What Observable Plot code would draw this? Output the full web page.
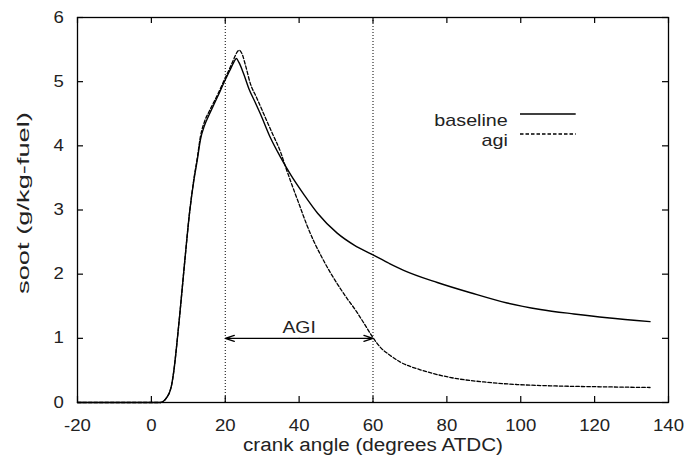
<!DOCTYPE html>
<html><head><meta charset="utf-8">
<script src="https://cdn.jsdelivr.net/npm/d3@7"></script>
<script src="https://cdn.jsdelivr.net/npm/@observablehq/plot@0.6"></script>
<style>body{margin:0;background:#fff} svg{display:block}</style>
</head><body><div id="chart"></div>
<script>
// ---- data ----
const baselineAngle = [-20, 0, 2.5, 3.5, 4.3, 5.0, 5.5, 6.1, 6.8, 7.7, 9.0, 10.4, 11.5, 12.4, 13.3, 14.4, 15.6, 16.9, 18.2, 19.6, 21.2, 22.3, 23.0, 23.7, 25.0, 26.4, 28.0, 29.5, 32.2, 35.0, 37.7, 41.3, 45.0, 50.3, 55.0, 59.3, 64.0, 68.3, 77.4, 86.4, 96.3, 105.3, 114.4, 123.4, 135.0];
const baselineSoot  = [0, 0, 0, 0.03, 0.09, 0.17, 0.28, 0.5, 0.86, 1.38, 2.18, 2.99, 3.46, 3.77, 4.10, 4.32, 4.48, 4.64, 4.80, 4.98, 5.17, 5.30, 5.36, 5.30, 5.12, 4.89, 4.69, 4.50, 4.13, 3.82, 3.55, 3.24, 2.95, 2.64, 2.45, 2.32, 2.18, 2.06, 1.87, 1.71, 1.55, 1.45, 1.38, 1.32, 1.26];
const agiAngle = [-20, 0, 2.5, 3.5, 4.3, 5.0, 5.5, 6.1, 6.8, 7.7, 9.0, 10.4, 11.5, 12.4, 13.3, 14.4, 15.6, 16.9, 18.2, 19.6, 21.0, 22.3, 23.2, 23.8, 24.5, 25.5, 26.8, 28.5, 30.4, 32.7, 35.0, 36.4, 38.0, 40.0, 42.0, 44.0, 46.0, 48.5, 51.0, 53.0, 55.5, 57.5, 60.0, 62.0, 64.5, 67.4, 72.8, 76.4, 81.9, 90.0, 99.0, 108.0, 121.6, 135.0];
const agiSoot  = [0, 0, 0, 0.03, 0.09, 0.17, 0.28, 0.5, 0.86, 1.38, 2.18, 2.99, 3.48, 3.80, 4.15, 4.38, 4.53, 4.68, 4.83, 5.01, 5.18, 5.35, 5.46, 5.49, 5.44, 5.25, 4.97, 4.75, 4.50, 4.20, 3.90, 3.66, 3.40, 3.09, 2.78, 2.51, 2.28, 2.02, 1.79, 1.62, 1.42, 1.24, 1.01, 0.86, 0.74, 0.63, 0.51, 0.45, 0.38, 0.32, 0.28, 0.26, 0.245, 0.234];
const seriesNames = ["baseline", "agi"];
const xTicks = [-20, 0, 20, 40, 60, 80, 100, 120, 140];
const yTicks = [0, 1, 2, 3, 4, 5, 6];
const agiWindow = [20, 60];
const agiArrowLevel = 1;
const agiText = "AGI";
const xLabel = "crank angle (degrees ATDC)";
const yLabel = "soot (g/kg-fuel)";

// ---- layout ----
const W = 688, H = 455, mL = 77, mR = 20, mT = 17, mB = 53;
const innerW = W - mL - mR, innerH = H - mT - mB, tk = 6;
const font = "'Liberation Sans', Arial, Helvetica, sans-serif";
const ink = "#222";
const dashes = {baseline: null, agi: "3.5,2"};

const baseline = baselineAngle.map((x, i) => ({x, y: baselineSoot[i], s: "baseline"}));
const agi = agiAngle.map((x, i) => ({x, y: agiSoot[i], s: "agi"}));
const mid = (agiWindow[0] + agiWindow[1]) / 2;
const arrows = agiWindow.map(e => ({x1: mid, x2: e, y: agiArrowLevel}));

const legendMarks = seriesNames.flatMap((name, i) => [
  Plot.text([name], {text: d => d, frameAnchor: "top-right", dx: -160.7, dy: 96.5 + 20 * i,
    textAnchor: "end", fontSize: 17, fill: ink}),
  Plot.tickY([yTicks[yTicks.length - 1]], {y: d => d, dy: 96.5 + 20 * i, insetLeft: 443, insetRight: 92.3,
    stroke: "black", strokeWidth: 1.3, strokeDasharray: dashes[name]})
]);

const plot = Plot.plot({
  width: W, height: H,
  marginLeft: mL, marginRight: mR, marginTop: mT, marginBottom: mB,
  style: {fontFamily: font, fontSize: "16px", background: "white", color: ink},
  x: {domain: [-20, 140], label: null},
  y: {domain: [0, 6], label: null},
  marks: [
    Plot.ruleX(agiWindow, {x: d => d, stroke: "black", strokeWidth: 1, strokeDasharray: "1,2"}),
    Plot.line(baseline, {x: "x", y: "y", stroke: "black", strokeWidth: 1.4, curve: "monotone-x"}),
    Plot.line(agi, {x: "x", y: "y", stroke: "black", strokeWidth: 1.3, strokeDasharray: dashes.agi, curve: "monotone-x"}),
    Plot.arrow(arrows, {x1: "x1", x2: "x2", y1: "y", y2: "y", stroke: "black", strokeWidth: 1.3, headLength: 11, headAngle: 36}),
    Plot.text([agiText], {text: d => d, x: mid, y: agiArrowLevel, dy: -11, fontSize: 17, fill: ink}),
    Plot.frame({stroke: "black", strokeWidth: 1.3}),
    Plot.tickX(xTicks, {x: d => d, insetTop: innerH - tk, stroke: "black", strokeWidth: 1.2}),
    Plot.tickX(xTicks, {x: d => d, insetBottom: innerH - tk, stroke: "black", strokeWidth: 1.2}),
    Plot.tickY(yTicks, {y: d => d, insetRight: innerW - tk, stroke: "black", strokeWidth: 1.2}),
    Plot.tickY(yTicks, {y: d => d, insetLeft: innerW - tk, stroke: "black", strokeWidth: 1.2}),
    Plot.axisX({ticks: xTicks, tickSize: 0, tickPadding: 17.6, tickFormat: d => String(d), label: null, fill: ink}),
    Plot.axisY({ticks: yTicks, tickSize: 0, tickPadding: 13.7, tickFormat: d => String(d), label: null, fill: ink}),
    Plot.text([xLabel], {text: d => d, frameAnchor: "bottom", lineAnchor: "bottom", dy: 48.7, fontSize: 18, fill: ink}),
    Plot.text([yLabel], {text: d => d, frameAnchor: "left", textAnchor: "middle", rotate: -90, lineAnchor: "bottom", dx: -48.5, dy: -7, fontSize: 17, fill: ink}),
    ...legendMarks
  ]
});
document.getElementById("chart").appendChild(plot);

// horizontal stretch of the glyphs to match the reference rendering
const targets = {[xLabel]: 260, [yLabel]: 182};
plot.querySelectorAll("text").forEach(t => {
  const len = t.getComputedTextLength();
  if (!len) return;
  const s = t.textContent;
  const target = targets[s] != null ? targets[s] : len * (s === agiText ? 1.14 : 1.16);
  const tr = t.getAttribute("transform") || "";
  if (tr.includes("rotate")) {
    t.setAttribute("transform", tr + ` scale(${target / len},1)`);
  } else {
    t.setAttribute("textLength", target);
    t.setAttribute("lengthAdjust", "spacingAndGlyphs");
  }
});
</script>
</body></html>
